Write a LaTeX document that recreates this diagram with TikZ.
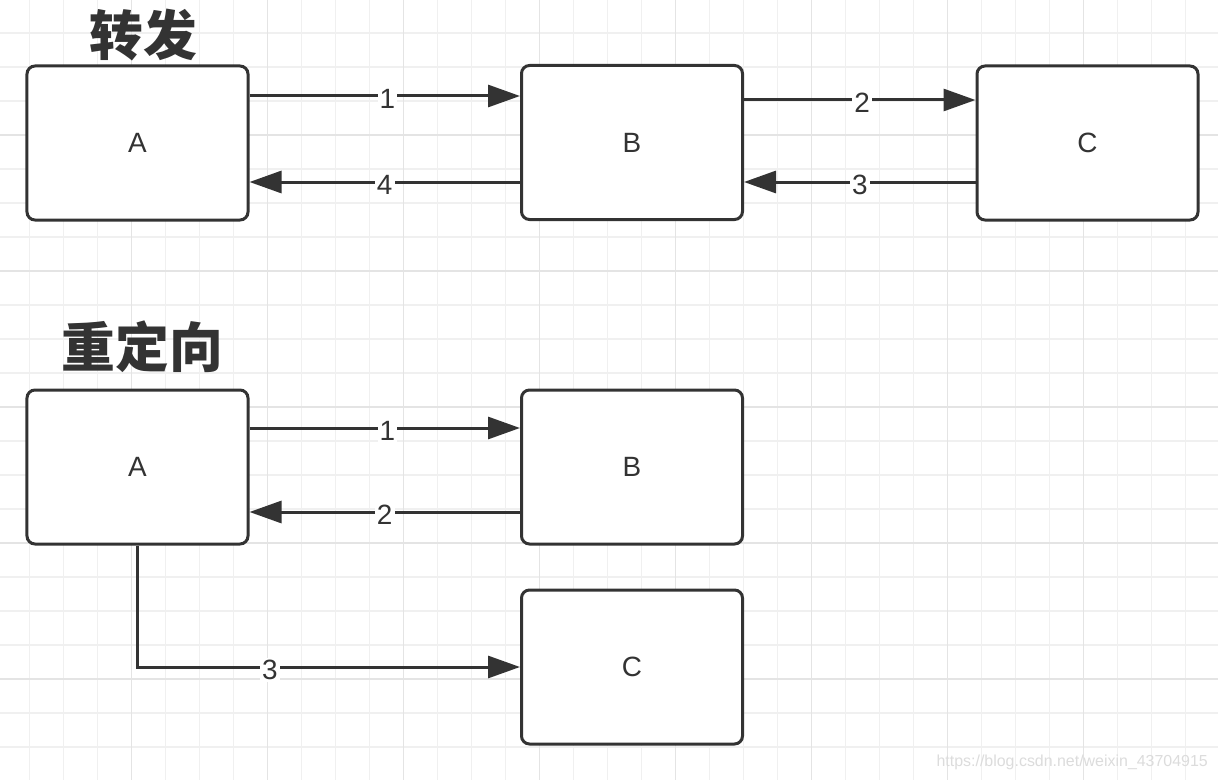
\documentclass[tikz,border=0pt]{standalone}
\usepackage{fontspec}
\setmainfont{Liberation Sans}
\newfontfamily\cjk{Noto Sans CJK SC}
\usetikzlibrary{arrows.meta}
\definecolor{ink}{HTML}{333333}
\definecolor{gridminor}{HTML}{F0F0F0}
\definecolor{gridmajor}{HTML}{E4E4E4}
\definecolor{wmark}{HTML}{DCDCDC}
\newcommand{\boxtxt}[1]{\raisebox{-3bp}{#1}}
\tikzset{
  box/.style={draw=ink, line width=3bp, fill=white, rounded corners=8bp,
    minimum width=221bp, minimum height=154bp, inner sep=0pt,
    font=\fontsize{28}{32}\selectfont, text=ink},
  conn/.style={draw=ink, line width=3bp, -{Triangle[length=32bp,width=22bp]}},
  lbl/.style={fill=white, inner sep=2bp, text=ink, font=\fontsize{28}{32}\selectfont},
  title/.style={text=ink, font=\cjk\bfseries\fontsize{54}{60}\selectfont, inner sep=0pt},
}
\begin{document}
\begin{tikzpicture}[x=1bp,y=-1bp]
\useasboundingbox (0,0) rectangle (1218,780);
\fill[white] (0,0) rectangle (1218,780);
% grid
\foreach \i in {0,...,35} {
  \draw[gridminor, line width=1.5bp] ({29.5+34*(\i-1)},0) -- ({29.5+34*(\i-1)},780);
}
\foreach \j in {0,...,23} {
  \draw[gridminor, line width=1.5bp] (0,{-1+34*\j}) -- (1218,{-1+34*\j});
}
\foreach \i in {0,...,8} {
  \draw[gridmajor, line width=1.8bp] ({131.5+136*(\i-1)},0) -- ({131.5+136*(\i-1)},780);
}
\foreach \j in {0,...,5} {
  \draw[gridmajor, line width=1.8bp] (0,{-1+136*\j}) -- (1218,{-1+136*\j});
}
% titles
\node[title] (t1) at (143,35) {转发};
\node[title] (t2) at (142.5,347) {重定向};
% top: forward
\node[box] (A1) at (137.5,143) {\boxtxt{A}};
\node[box] (B1) at (632,142.5) {\boxtxt{B}};
\node[box] (C1) at (1087.5,143) {\boxtxt{C}};
\draw[conn] (A1.east |- 0,96) -- node[lbl, pos=0.51, yshift=-3bp] {1} (B1.west |- 0,96);
\draw[conn] (B1.east |- 0,100) -- node[lbl, pos=0.51, yshift=-3bp] {2} (C1.west |- 0,100);
\draw[conn] (C1.west |- 0,182) -- node[lbl, pos=0.5, yshift=-3bp] {3} (B1.east |- 0,182);
\draw[conn] (B1.west |- 0,182) -- node[lbl, pos=0.5, yshift=-3bp] {4} (A1.east |- 0,182);
% bottom: redirect
\node[box] (A2) at (137.5,467) {\boxtxt{A}};
\node[box] (B2) at (632,467) {\boxtxt{B}};
\node[box] (C2) at (632,667) {\boxtxt{C}};
\draw[conn] (A2.east |- 0,428) -- node[lbl, pos=0.51, yshift=-3bp] {1} (B2.west |- 0,428);
\draw[conn] (B2.west |- 0,512) -- node[lbl, pos=0.5, yshift=-3bp] {2} (A2.east |- 0,512);
\draw[conn, rounded corners=0pt] (A2.south) |- node[lbl, pos=0.673, yshift=-3bp] {3} (C2.west);
% watermark
\node[text=wmark, font=\fontsize{16}{18}\selectfont, anchor=east, inner sep=0pt] (wm) at (1208,762) {https://blog.csdn.net/weixin\_43704915};
\end{tikzpicture}
\end{document}
